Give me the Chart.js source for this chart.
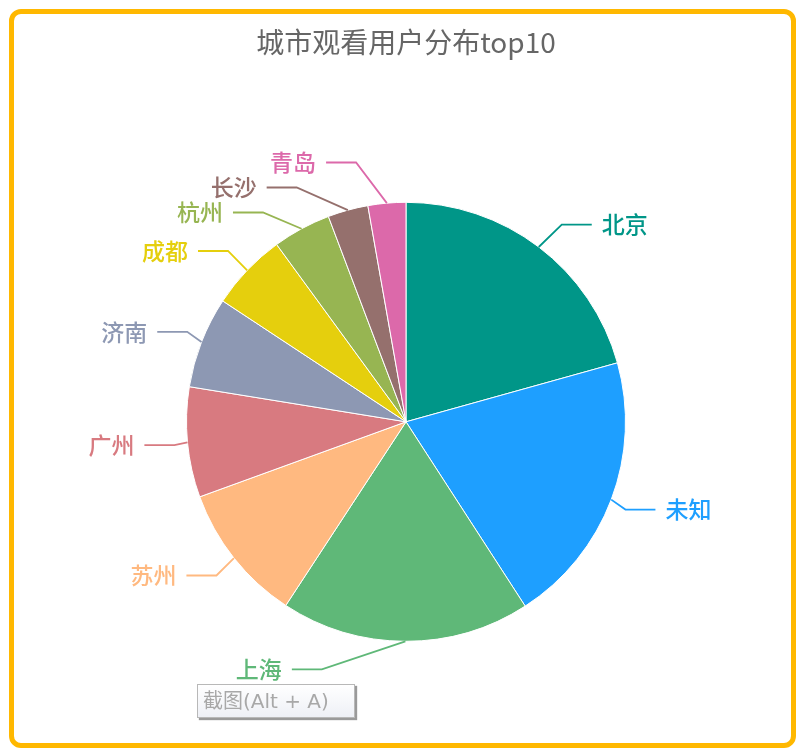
<!DOCTYPE html>
<html>
<head>
<meta charset="utf-8">
<script src="https://cdn.jsdelivr.net/npm/chart.js@4/dist/chart.umd.min.js"></script>
<style>
  html, body { margin: 0; padding: 0; background: #fff; }
  #wrap { position: relative; width: 803px; height: 756px; overflow: hidden; }
  #frame {
    position: absolute; left: 9px; top: 9px; width: 787px; height: 739px;
    box-sizing: border-box; border: 5.5px solid #FFB800; border-radius: 12px;
    pointer-events: none;
  }
  #snapTip {
    position: absolute; left: 197px; top: 684px; width: 158px; height: 34px;
    box-sizing: border-box; border: 1px solid #b8b8b8;
    background: linear-gradient(#ffffff, #eef0f6);
    box-shadow: 2px 2px 1px #9a9a9a;
    font: 20px "DejaVu Sans", "Noto Sans CJK SC", sans-serif; color: #a8a8a8;
    line-height: 32px; padding-left: 5px; white-space: nowrap;
  }
</style>
</head>
<body>
<div id="wrap">
  <canvas id="cityPie" width="803" height="756"></canvas>
  <div id="frame"></div>
  <div id="snapTip">截图(Alt + A)</div>
</div>
<script>
"use strict";

// City viewer distribution, top 10
const cities = ["北京", "未知", "上海", "苏州", "广州", "济南", "成都", "杭州", "长沙", "青岛"];
const viewers = [2067, 2019, 1836, 1022, 811, 672, 569, 428, 297, 278];
const sliceColors = ["#009688", "#1E9FFF", "#5FB878", "#FFB980", "#D87A80",
                     "#8D98B3", "#E5CF0D", "#97B552", "#95706D", "#DC69AA"];

const FONT = '"Noto Sans CJK SC", "Noto Sans", sans-serif';

// Draws outside labels with elbow leader lines, pushing labels apart on each side
const outsideLabels = {
    id: "outsideLabels",
    afterDatasetsDraw(chart) {
        const meta = chart.getDatasetMeta(0);
        const c = chart.ctx;
        const items = [];
        meta.data.forEach((arc, i) => {
            const p = arc.getProps(["x", "y", "startAngle", "endAngle", "outerRadius"], true);
            const mid = (p.startAngle + p.endAngle) / 2;
            const r = p.outerRadius;
            items.push({
                i, cx: p.x, cy: p.y, r,
                px: p.x + r * Math.cos(mid),
                py: p.y + r * Math.sin(mid),
                ly: p.y + (r + 28) * Math.sin(mid),
                dir: Math.cos(mid) >= 0 ? 1 : -1
            });
        });

        // resolve vertical overlaps per side
        const gap = 25;
        [1, -1].forEach(dir => {
            const side = items.filter(it => it.dir === dir).sort((a, b) => a.ly - b.ly);
            let clusters = side.map(it => ({ list: [it], mean: it.ly }));
            let merged = true;
            while (merged) {
                merged = false;
                for (let k = 0; k < clusters.length - 1; k++) {
                    const a = clusters[k], b = clusters[k + 1];
                    const aBottom = a.mean + (a.list.length - 1) * gap / 2;
                    const bTop = b.mean - (b.list.length - 1) * gap / 2;
                    if (bTop - aBottom < gap) {
                        const list = a.list.concat(b.list);
                        const mean = list.reduce((s, it) => s + it.ly, 0) / list.length;
                        clusters.splice(k, 2, { list, mean });
                        merged = true;
                        break;
                    }
                }
            }
            clusters.forEach(cl => {
                cl.list.forEach((it, k) => {
                    it.ly = cl.mean + (k - (cl.list.length - 1) / 2) * gap;
                });
            });
        });

        c.save();
        c.font = "500 23px " + FONT;
        c.textBaseline = "middle";
        items.forEach(it => {
            const rA = it.r + 13, rB = it.r + 46;
            const dy = it.ly - it.cy;
            const dx = rA * Math.sqrt(Math.max(0, 1 - dy * dy / (rB * rB)));
            const ex = it.cx + it.dir * dx;
            const endX = ex + it.dir * 30;
            const col = sliceColors[it.i];
            c.strokeStyle = col;
            c.lineWidth = 1.8;
            c.beginPath();
            c.moveTo(it.px, it.py);
            c.lineTo(ex, it.ly);
            c.lineTo(endX, it.ly);
            c.stroke();
            c.fillStyle = col;
            c.textAlign = it.dir > 0 ? "left" : "right";
            c.fillText(cities[it.i], endX + it.dir * 10, it.ly);
        });
        c.restore();
    }
};

new Chart(document.getElementById("cityPie"), {
    type: "pie",
    data: {
        labels: cities,
        datasets: [{
            data: viewers,
            backgroundColor: sliceColors,
            borderColor: "#ffffff",
            borderWidth: 1
        }]
    },
    options: {
        responsive: false,
        animation: false,
        layout: { padding: { top: 0, bottom: 114, left: 186, right: 177 } },
        plugins: {
            legend: { display: false },
            tooltip: { enabled: false },
            title: {
                display: true,
                text: "城市观看用户分布top10",
                color: "#666",
                font: { size: 28, family: FONT, weight: "normal" },
                padding: { top: 26, bottom: 142 }
            }
        }
    },
    plugins: [outsideLabels]
});
</script>
</body>
</html>
